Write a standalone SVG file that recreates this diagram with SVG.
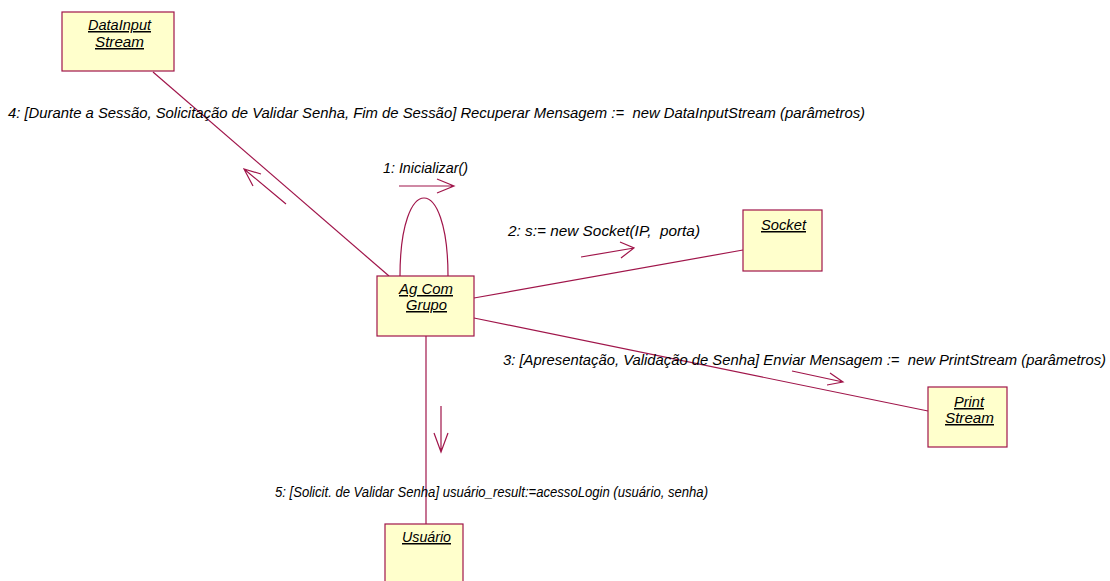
<svg xmlns="http://www.w3.org/2000/svg" width="1110" height="581" viewBox="0 0 1110 581">
<style>
.box{fill:#FFFFCC;stroke:#A0154A;stroke-width:1.2}
.name{font-family:"Liberation Sans",Arial,sans-serif;font-style:italic;font-size:15px;text-decoration:underline;fill:#000;text-anchor:middle}
.lbl{font-family:"Liberation Sans",Arial,sans-serif;font-style:italic;font-size:14px;fill:#000;white-space:pre}
.conn{stroke:#A0154A;stroke-width:1.2;fill:none}
</style>
<rect width="1110" height="581" fill="#fff"/>
<g id="connectors">
<line class="conn" x1="153" y1="72" x2="389" y2="276"/>
<path class="conn" d="M400,276 C400,172 448,172 448,276"/>
<line class="conn" x1="474" y1="298" x2="743" y2="250"/>
<line class="conn" x1="474" y1="318" x2="928" y2="411"/>
<line class="conn" x1="426" y1="336" x2="426" y2="524"/>
<path class="conn" d="M399,186 L454,186 M437,179 L454,186 L437,193"/>
<path class="conn" d="M286,204 L244,169 M261,174 L244,169 L253,186"/>
<path class="conn" d="M581,257 L634,248 M620,242 L634,248 L621,258"/>
<path class="conn" d="M792,371 L843,382 M830,373 L843,382 L827,385"/>
<path class="conn" d="M441,406 L441,452 M434,433 L441,452 L448,433"/>
</g>
<g id="labels">
<text class="lbl" x="8" y="118" textLength="857" lengthAdjust="spacingAndGlyphs">4: [Durante a Sessão, Solicitação de Validar Senha, Fim de Sessão] Recuperar Mensagem :=  new DataInputStream (parâmetros)</text>
<text class="lbl" x="383" y="173" textLength="85" lengthAdjust="spacingAndGlyphs">1: Inicializar()</text>
<text class="lbl" x="508" y="236" textLength="192" lengthAdjust="spacingAndGlyphs">2: s:= new Socket(IP,  porta)</text>
<text class="lbl" x="503" y="365" textLength="603" lengthAdjust="spacingAndGlyphs">3: [Apresentação, Validação de Senha] Enviar Mensagem :=  new PrintStream (parâmetros)</text>
<text class="lbl" x="275" y="497" textLength="433" lengthAdjust="spacingAndGlyphs">5: [Solicit. de Validar Senha] usuário_result:=acessoLogin (usuário, senha)</text>
</g>
<g id="DataInputStream">
<rect class="box" x="62" y="12" width="112" height="59"/>
<text class="name" x="119.5" y="30" textLength="63" lengthAdjust="spacingAndGlyphs">DataInput</text>
<text class="name" x="119.5" y="47" textLength="49" lengthAdjust="spacingAndGlyphs">Stream</text>
</g>
<g id="AgComGrupo">
<rect class="box" x="377" y="276" width="97" height="60"/>
<text class="name" x="426" y="294" textLength="54" lengthAdjust="spacingAndGlyphs">Ag Com</text>
<text class="name" x="426.5" y="310" textLength="41" lengthAdjust="spacingAndGlyphs">Grupo</text>
</g>
<g id="Socket">
<rect class="box" x="743" y="210" width="79" height="61"/>
<text class="name" x="783.5" y="230" textLength="45" lengthAdjust="spacingAndGlyphs">Socket</text>
</g>
<g id="PrintStream">
<rect class="box" x="928" y="387" width="79" height="60"/>
<text class="name" x="969" y="407" textLength="30" lengthAdjust="spacingAndGlyphs">Print</text>
<text class="name" x="969.5" y="423" textLength="49" lengthAdjust="spacingAndGlyphs">Stream</text>
</g>
<g id="Usuario">
<rect class="box" x="385" y="524" width="78" height="62"/>
<text class="name" x="426.5" y="542" textLength="49" lengthAdjust="spacingAndGlyphs">Usuário</text>
</g>
</svg>
